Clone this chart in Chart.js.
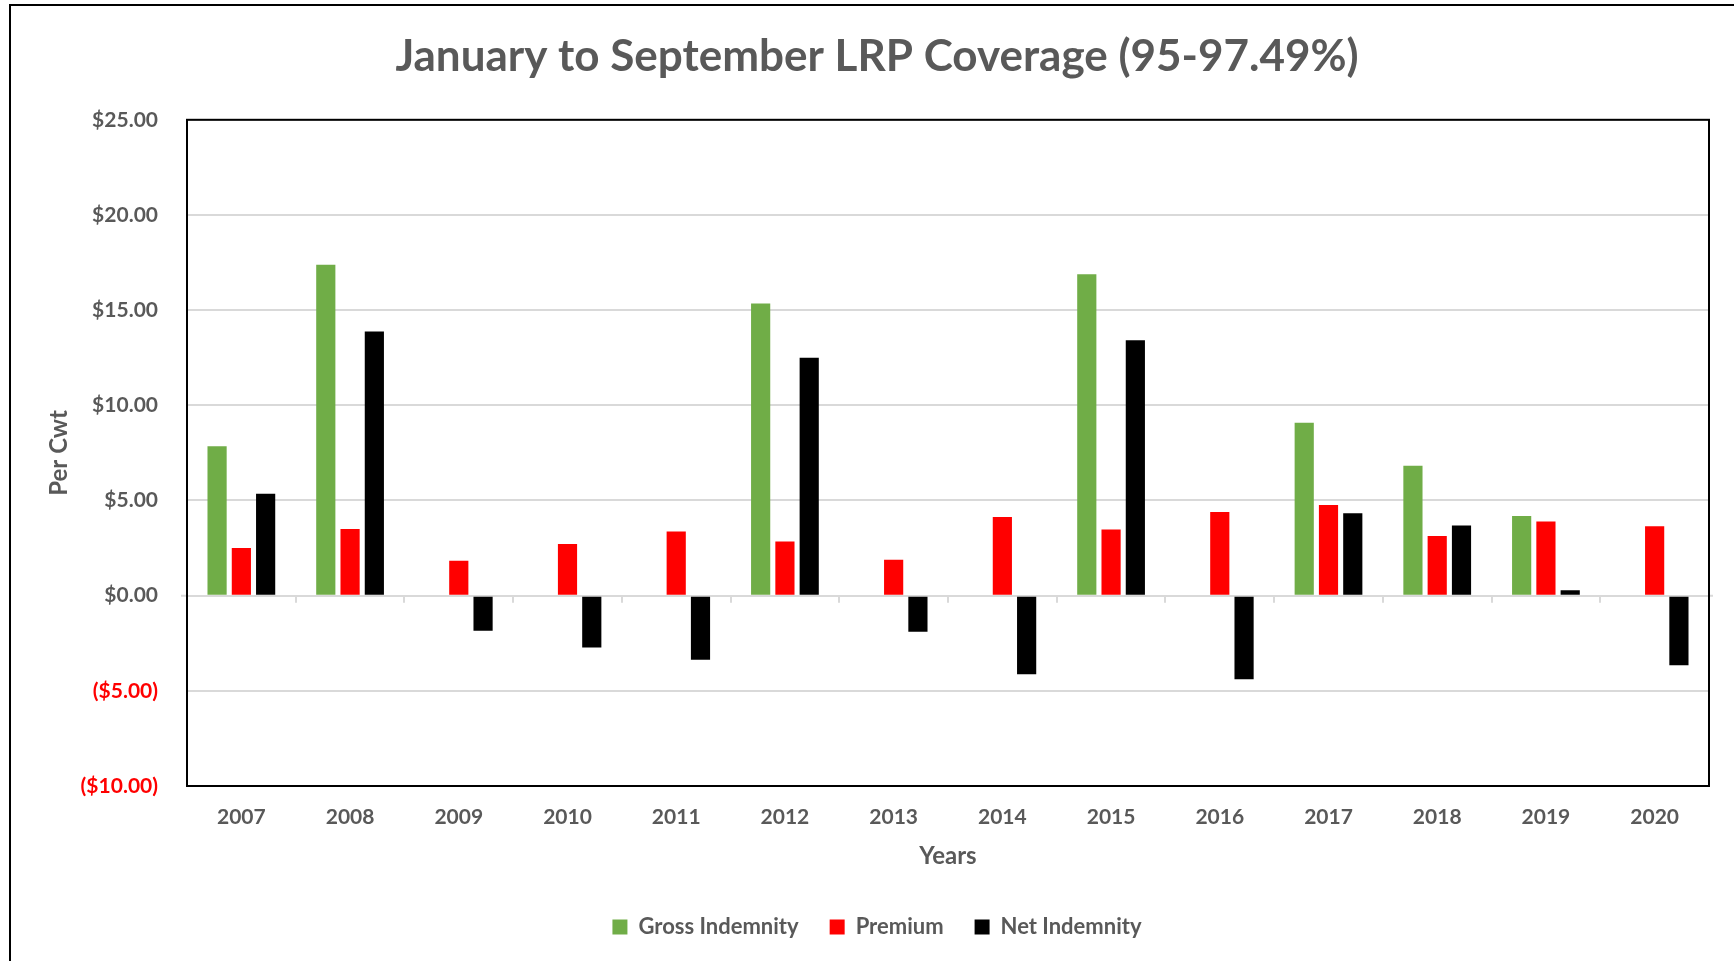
<!DOCTYPE html>
<html lang="en">
<head>
<meta charset="UTF-8">
<title>January to September LRP Coverage</title>
<script src="https://cdn.jsdelivr.net/npm/chart.js"></script>
<style>
  html, body { margin: 0; padding: 0; background: #ffffff; }
  #wrap { width: 1734px; height: 961px; position: relative; }
</style>
</head>
<body>
<div id="wrap"><canvas id="lrpChart"></canvas></div>
<script>
// data ($ per cwt)
const years = ['2007', '2008', '2009', '2010', '2011', '2012', '2013', '2014', '2015', '2016', '2017', '2018', '2019', '2020'];
const grossIndemnity = [7.85, 17.38, 0, 0, 0, 15.35, 0, 0, 16.89, 0, 9.09, 6.82, 4.18, 0];
const premium = [2.50, 3.50, 1.84, 2.72, 3.37, 2.85, 1.89, 4.13, 3.47, 4.39, 4.76, 3.13, 3.90, 3.65];
const netIndemnity = [5.35, 13.88, -1.84, -2.72, -3.37, 12.50, -1.89, -4.13, 13.42, -4.39, 4.33, 3.69, 0.28, -3.65];
const yMin = -10, yMax = 25, yStep = 5;

const textGray = '#595959';
const gridGray = '#d9d9d9';
const fontFamily = 'Lato';

// frame around the plot, outer border and the little boundary ticks on the zero line
const framePlugin = {
    id: 'frame',
    afterDatasetsDraw(chart) {
        const { ctx, chartArea: a, scales } = chart;
        const y0 = scales.y.getPixelForValue(0);
        const n = years.length;
        const w = (a.right - a.left) / n;
        ctx.save();
        ctx.strokeStyle = gridGray;
        ctx.lineWidth = 2;
        ctx.beginPath();
        for (let i = 1; i < n; i++) {
            const x = Math.round(a.left + i * w);
            ctx.moveTo(x, y0);
            ctx.lineTo(x, y0 + 7);
        }
        // zero line pokes out a little on both sides
        ctx.moveTo(a.left - 6, y0);
        ctx.lineTo(a.left, y0);
        ctx.moveTo(a.right, y0);
        ctx.lineTo(a.right + 4, y0);
        ctx.stroke();
        ctx.strokeStyle = '#000000';
        ctx.lineWidth = 2;
        ctx.strokeRect(a.left, a.top, a.right - a.left, a.bottom - a.top);
        // outer chart border (clipped at right/bottom in the original)
        ctx.beginPath();
        ctx.moveTo(10, chart.height);
        ctx.lineTo(10, 5);
        ctx.lineTo(chart.width, 5);
        ctx.stroke();
        ctx.restore();
    }
};

const chart = new Chart(document.getElementById('lrpChart'), {
    type: 'bar',
    data: {
        labels: years,
        datasets: [
            { label: 'Gross Indemnity', data: grossIndemnity, backgroundColor: '#70AD47' },
            { label: 'Premium', data: premium, backgroundColor: '#FF0000' },
            { label: 'Net Indemnity', data: netIndemnity, backgroundColor: '#000000' }
        ]
    },
    options: {
        responsive: true,
        maintainAspectRatio: false,
        animation: false,
        layout: { padding: { left: 45, right: 25, top: 0, bottom: 13 } },
        datasets: {
            bar: { categoryPercentage: 0.67, barPercentage: 0.79 }
        },
        scales: {
            x: {
                grid: { display: false, drawTicks: false },
                border: { display: false },
                ticks: {
                    color: textGray,
                    padding: 19,
                    font: { family: fontFamily, size: 21, weight: 'bold' }
                },
                title: {
                    display: true,
                    text: 'Years',
                    color: textGray,
                    font: { family: fontFamily, size: 24, weight: 'bold' },
                    padding: { top: 0, bottom: 14 }
                },
                afterFit(scale) { scale.height = 99; }
            },
            y: {
                min: yMin,
                max: yMax,
                grid: { color: gridGray, lineWidth: 2, drawTicks: false },
                border: { display: false },
                ticks: {
                    stepSize: yStep,
                    padding: 29,
                    color: ctx => (ctx.tick && ctx.tick.value < 0 ? '#FF0000' : textGray),
                    font: { family: fontFamily, size: 21, weight: 'bold' },
                    callback: v => (v < 0 ? '($' + Math.abs(v).toFixed(2) + ')' : '$' + v.toFixed(2))
                },
                title: {
                    display: true,
                    text: 'Per Cwt',
                    color: textGray,
                    font: { family: fontFamily, size: 24, weight: 'bold' },
                    padding: { top: 0, bottom: 0 }
                },
                afterFit(scale) { scale.width = 142; }
            }
        },
        plugins: {
            title: {
                display: true,
                text: 'January to September LRP Coverage (95-97.49%)',
                color: textGray,
                font: { family: fontFamily, size: 44, weight: 'bold' },
                padding: { top: 30, bottom: 37 }
            },
            legend: {
                position: 'bottom',
                labels: {
                    color: textGray,
                    boxWidth: 15,
                    boxHeight: 15,
                    padding: 31,
                    font: { family: fontFamily, size: 22, weight: 'bold' }
                }
            },
            tooltip: { enabled: false }
        }
    },
    plugins: [framePlugin]
});
</script>
</body>
</html>
